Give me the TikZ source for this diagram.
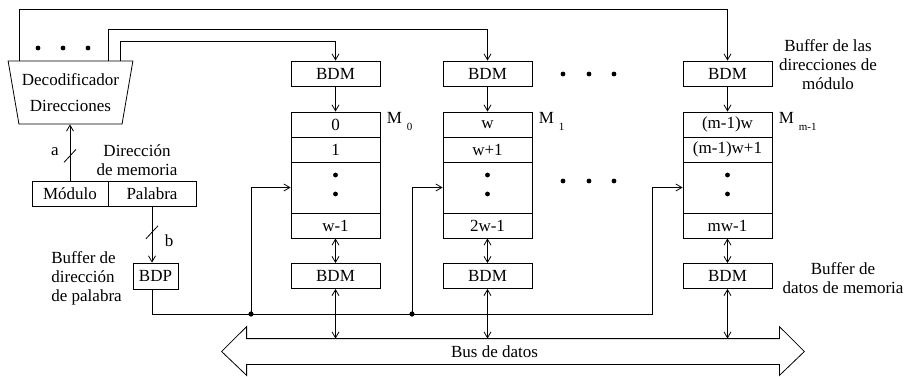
\documentclass[tikz,border=0pt]{standalone}
\usepackage{fontspec}
\setmainfont{Liberation Serif}
\usetikzlibrary{arrows.meta,shapes.geometric,calc}
\tikzset{
  bdm/.style   = {rectangle, draw, minimum width=89pt, minimum height=25pt,
                  inner sep=0pt},
  cell/.style  = {rectangle, draw, minimum width=89pt, minimum height=25pt,
                  inner sep=0pt},
  field/.style = {rectangle, draw, minimum height=25pt, inner sep=0pt},
  decod/.style = {trapezium, trapezium angle=75, shape border rotate=180,
                  trapezium stretches=true, draw, minimum width=125pt,
                  minimum height=63pt, inner sep=0pt, align=center,
                  font=\fontsize{17}{26}\selectfont},
  note/.style  = {align=center, inner sep=0pt},
  arr/.style   = {-{Straight Barb[length=6pt,width=7pt]}},
  barr/.style  = {{Straight Barb[length=6pt,width=7pt]}-{Straight Barb[length=6pt,width=7pt]}}
}
\newcommand\msub[1]{\hspace{5pt}\raisebox{-6.5pt}{\fontsize{11}{11}\selectfont #1}}

\begin{document}
\begin{tikzpicture}[x=1pt, y=-1pt, line width=0.8pt, font=\fontsize{17}{19}\selectfont]
  \useasboundingbox (0,0) rectangle (913,376);

  % decodificador y direccion de memoria
  \node[decod] (dec) at (70.5,92.5) {Decodificador\\Direcciones};
  \foreach \x in {38,63,88}
    \fill (\x,48) circle (2.4pt);
  \node[field, minimum width=76pt] (mod) at (70,193.5) {Módulo};
  \node[field, minimum width=88pt] (pal) at (152,193.5) {Palabra};
  \node[note] (dirmem) at (137,160.5) {Dirección\\de memoria};
  \node[field, minimum width=45pt, minimum height=26pt] (bdp) at (155.5,276) {BDP};
  \node[note, align=left, anchor=west] (bdptxt) at (51,278) {Buffer de\\dirección\\de palabra};

  % bus de datos
  \node[minimum width=532pt, minimum height=25pt, inner sep=0pt] (bus) at (513,351.5) {};
  \node (bustxt) at (494.5,352) {Bus de datos};
  \draw (bus.north west) -- (bus.north east) -- ($(bus.north east)+(0,-12)$)
    -- ($(bus.east)+(25,0)$) -- ($(bus.south east)+(0,11)$) -- (bus.south east)
    -- (bus.south west) -- ($(bus.south west)+(0,11)$) -- ($(bus.west)+(-25,0)$)
    -- ($(bus.north west)+(0,-12)$) -- cycle;

  % modulos
  \foreach \i/\cx/\celA/\celB/\celL/\msb in {1/335.5/0/1/w-1/0,
      2/487.5/w/w+1/2w-1/1, 3/727.5/{(m-1)w}/{(m-1)w+1}/mw-1/m-1} {
    \node[bdm] (bdmt\i) at (\cx,73.5) {BDM};
    \node[cell] (ra\i) at (\cx,124.5) {\celA};
    \node[cell] (rb\i) at (\cx,149.5) {\celB};
    \node[cell, minimum height=51pt] (dt\i) at (\cx,187.5) {};
    \node[cell] (rl\i) at (\cx,225.5) {\celL};
    \node[bdm] (bdmb\i) at (\cx,276) {BDM};
    \node[anchor=base west, inner sep=0pt] (ml\i) at ($(ra\i.north east)+(6,12)$) {M\msub{\msb}};
    \fill (dt\i.center) ++(0,-12.5) circle (2.4pt) (dt\i.center) ++(0,6.5) circle (2.4pt);
    \draw[arr] (bdmt\i) -- (ra\i);
    \draw[barr] (rl\i) -- (bdmb\i);
    \draw[barr] (bdmb\i) -- (bdmb\i.south |- bus.north);
  }
  \foreach \x in {563,589,614}
    \fill (\x,74) circle (2.4pt) (\x,181) circle (2.4pt);

  \node[note] (bdmtxt) at (828,64.5) {Buffer de las\\direcciones de\\módulo};
  \node[note] (bddtxt) at (843,278.5) {Buffer de\\datos de memoria};

  % lineas de direccion de modulo
  \draw[arr] ([xshift=-51.5pt]dec.north) -- ++(0,-51) -| (bdmt3);
  \draw[arr] ([xshift=37.5pt]dec.north) -- ++(0,-31) -| (bdmt2);
  \draw[arr] ([xshift=49.5pt]dec.north) -- ++(0,-19) -| (bdmt1);

  % campos a y b
  \draw[arr] (mod.north) -- coordinate[pos=0.44] (sa) (mod.north |- dec.south);
  \draw ($(sa)+(-6,6.5)$) -- ($(sa)+(6,-6.5)$);
  \node (alab) at ($(sa)+(-15,-4)$) {a};
  \draw[arr] (pal.south) -- coordinate[pos=0.46] (sb) (pal.south |- bdp.north);
  \draw ($(sb)+(-6,6.5)$) -- ($(sb)+(6,-6.5)$);
  \node (blab) at ($(sb)+(17,8)$) {b};

  % direccion de palabra
  \coordinate (j1) at (251,314);
  \coordinate (j2) at (412,314);
  \coordinate (j3) at (652,314);
  \draw[arr] (pal.south |- bdp.south) |- (j3) |- (dt3.west);
  \draw[arr] (j1) |- (dt1.west);
  \draw[arr] (j2) |- (dt2.west);
  \fill (j1) circle (2.6pt) (j2) circle (2.6pt);
\end{tikzpicture}
\end{document}
